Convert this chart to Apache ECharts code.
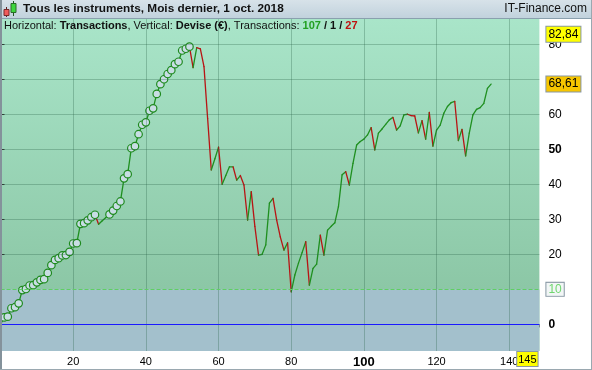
<!DOCTYPE html>
<html>
<head>
<meta charset="utf-8">
<script src="https://cdn.jsdelivr.net/npm/echarts@6/dist/echarts.min.js"></script>
<style>
html,body{margin:0;padding:0;background:#fff;}
#chart{width:592px;height:370px;}
</style>
</head>
<body>
<div id="chart"></div>
<script>
// ---- data ----
const title = 'Tous les instruments, Mois dernier, 1 oct. 2018';
const brand = 'IT-Finance.com';
const countWins = 107, countFlat = 1, countLosses = 27;
const equity = [
  0, 2.0, 2.2, 4.6, 4.9, 6.0, 9.8, 10.1, 11.1, 11.2,
  12.0, 12.7, 12.9, 14.7, 16.9, 18.4, 18.9, 19.7, 19.8, 20.7,
  23.1, 23.2, 28.7, 28.9, 29.7, 30.6, 31.3, 28.6, 29.6, 30.5,
  31.4, 32.5, 33.8, 35.1, 41.7, 42.9, 50.3, 50.9, 54.3, 57.0,
  57.7, 61.0, 61.7, 65.8, 68.6, 70.0, 71.5, 72.6, 74.3, 75.0,
  78.2, 78.7, 79.3, 73.3, 79.0, 78.7, 73.6, 58.8, 44.1, 47.3,
  50.6, 40.0, 42.5, 45.0, 45.0, 41.2, 42.5, 39.8, 29.8, 37.9,
  28.0, 19.8, 20.0, 22.7, 34.6, 36.0, 29.8, 25.0, 21.2, 23.3,
  9.3, 14.1, 17.5, 20.5, 23.6, 11.2, 16.0, 17.2, 25.5, 19.8,
  26.9, 28.0, 29.0, 33.6, 42.7, 43.6, 39.8, 46.0, 51.2, 52.2,
  52.9, 54.1, 56.2, 49.8, 54.6, 55.8, 57.1, 58.4, 59.1, 55.5,
  56.7, 59.8, 60.0, 59.6, 59.5, 54.7, 58.2, 52.9, 60.5, 50.9,
  55.5, 56.9, 60.3, 62.2, 63.3, 63.7, 52.5, 55.7, 48.1, 54.6,
  59.8, 61.4, 61.9, 63.1, 67.4, 68.61
];
const xTickLabels = [20, 40, 60, 80, 100, 120, 140];
const xBoldLabels = [100];
const yTickValues = [0, 10, 20, 30, 40, 50, 60, 70, 80];
const yTickLabels = [0, 20, 30, 40, 50, 60, 80];
const yBoldLabels = [0, 50];
const xGridValues = [20, 40, 60, 80, 100, 120, 140];
const yGridValues = [20, 30, 40, 50, 60, 70, 80];
const zeroLine = 0;
const thresholdLine = 10;
const topValueLabel = 82.84;
const lastValueLabel = 68.61;
const xEndLabel = 145;

// ---- axis range ----
const yMin = -7.6, yMax = 87.2;
const xMin = 0, xMax = 148.3;

// ---- derived ----
const segData = [];
for (let k = 0; k < equity.length - 1; k++) {
  segData.push([k, equity[k], k + 1, equity[k + 1], equity[k + 1] >= equity[k] ? 1 : 0]);
}
const markerData = [];
let runMax = equity[0];
for (let i = 1; i < equity.length; i++) {
  if (equity[i] >= runMax) { markerData.push([i, equity[i]]); }
  runMax = Math.max(runMax, equity[i]);
}
const fmtFr = v => String(v).replace('.', ',');

const FONT = "'Liberation Sans', Arial, sans-serif";
const chart = echarts.init(document.getElementById('chart'), null, {renderer: 'canvas'});

const gridLineStyle = {color: 'rgba(40,95,70,0.3)', width: 1, type: 'solid'};
const hidden = {color: 'rgba(0,0,0,0)', width: 0};

const option = {
  animation: false,
  backgroundColor: '#ffffff',
  textStyle: {fontFamily: FONT},
  grid: {
    left: 0.5, right: 52.6, top: 19, bottom: 19,
    show: true, borderWidth: 0,
    backgroundColor: new echarts.graphic.LinearGradient(0, 0, 0, 1, [
      {offset: 0, color: '#a9e5c9'},
      {offset: 0.81, color: '#8cc7a6'},
      {offset: 1, color: '#8cc7a6'}
    ])
  },
  xAxis: {
    type: 'value', min: xMin, max: xMax, interval: 20,
    axisLine: {show: false},
    axisTick: {show: true, length: 3, lineStyle: {color: '#666'}},
    minorTick: {show: true, splitNumber: 2, length: 3, lineStyle: {color: '#666'}},
    splitLine: {show: false},
    axisLabel: {
      showMinLabel: false, showMaxLabel: false, margin: 5,
      fontSize: 11, fontFamily: FONT, color: '#000',
      formatter: v => xTickLabels.indexOf(v) < 0 ? '' : (xBoldLabels.indexOf(v) >= 0 ? '{b|' + v + '}' : String(v)),
      rich: {b: {fontWeight: 'bold', fontSize: 13, fontFamily: FONT, color: '#000'}}
    }
  },
  yAxis: {
    type: 'value', position: 'right', min: yMin, max: yMax,
    axisLine: {show: true, lineStyle: {color: '#a4b2ba', width: 1.5}},
    axisTick: {show: true, length: 4, customValues: yTickValues, lineStyle: {color: '#333'}},
    splitLine: {show: false},
    axisLabel: {
      customValues: yTickLabels, margin: 9,
      fontSize: 12, fontFamily: FONT, color: '#000',
      formatter: v => yBoldLabels.indexOf(v) >= 0 ? '{b|' + v + '}' : String(v),
      rich: {b: {fontWeight: 'bold', fontSize: 12, fontFamily: FONT, color: '#000'}}
    }
  },
  series: [
    {
      type: 'line', name: 'bg', data: [], z: 1, silent: true,
      markArea: {
        silent: true,
        itemStyle: {color: '#a3c0cc'},
        data: [[{yAxis: yMin}, {yAxis: thresholdLine}]]
      },
      markLine: {
        silent: true, symbol: 'none', label: {show: false},
        data: [
          ...xGridValues.map(v => ({xAxis: v, lineStyle: gridLineStyle})),
          ...yGridValues.map(v => ({yAxis: v, lineStyle: gridLineStyle})),
          {yAxis: thresholdLine, lineStyle: {color: '#5fcf63', width: 1, type: [4, 2]}},
          {yAxis: zeroLine, lineStyle: {color: '#1a1aff', width: 1, type: 'solid'}}
        ]
      }
    },
    {
      type: 'custom', name: 'equity', z: 3, silent: true,
      data: segData,
      encode: {x: [0, 2], y: [1, 3]},
      renderItem: function (params, api) {
        const p0 = api.coord([api.value(0), api.value(1)]);
        const p1 = api.coord([api.value(2), api.value(3)]);
        return {
          type: 'line',
          shape: {x1: p0[0], y1: p0[1], x2: p1[0], y2: p1[1]},
          style: {stroke: api.value(4) ? '#1f8f1f' : '#b81414', lineWidth: 1.3, lineCap: 'round'}
        };
      }
    },
    {
      type: 'scatter', name: 'highs', z: 4, silent: true,
      data: markerData, symbol: 'circle', symbolSize: 7.5,
      itemStyle: {color: '#c8dde4', borderColor: '#1e8a1e', borderWidth: 1.2, opacity: 1}
    },
    {
      type: 'line', name: 'labels', data: [], z: 6, silent: true,
      markLine: {
        silent: true, symbol: 'none',
        data: [
          {yAxis: topValueLabel, lineStyle: hidden, label: {show: true, position: 'end', distance: 7, formatter: fmtFr(topValueLabel),
            backgroundColor: '#ffff00', borderColor: '#8797a3', borderWidth: 1, padding: [2, 2, 1, 2],
            color: '#000', fontSize: 12, fontFamily: FONT}},
          {yAxis: lastValueLabel, lineStyle: hidden, label: {show: true, position: 'end', distance: 7, formatter: fmtFr(lastValueLabel),
            backgroundColor: '#f7c600', borderColor: '#8797a3', borderWidth: 1, padding: [2, 2, 1, 2],
            color: '#000', fontSize: 12, fontFamily: FONT}},
          {yAxis: thresholdLine, lineStyle: hidden, label: {show: true, position: 'end', distance: 7, formatter: String(thresholdLine),
            backgroundColor: '#f2f6f6', borderColor: '#8797a3', borderWidth: 1, padding: [1, 2, 0, 2],
            color: '#6fd66f', fontSize: 12, fontFamily: FONT}},
          {xAxis: xEndLabel, lineStyle: hidden, label: {show: true, position: 'start', distance: 1, formatter: String(xEndLabel),
            backgroundColor: '#ffff00', borderColor: '#8797a3', borderWidth: 1, padding: [2, 1, 1, 1],
            color: '#000', fontSize: 11, fontFamily: FONT}}
        ]
      }
    }
  ],
  graphic: [
    {type: 'rect', left: 0, top: 0, z: 100, shape: {width: 592, height: 19},
      style: {fill: new echarts.graphic.LinearGradient(0, 0, 0, 1, [
        {offset: 0, color: '#d7e2e9'}, {offset: 1, color: '#c0d1dc'}])}},
    {type: 'line', z: 101, shape: {x1: 0, y1: 18.5, x2: 592, y2: 18.5}, style: {stroke: '#8aa0ae', lineWidth: 1}},
    {type: 'rect', z: 101, shape: {x: 0, y: 0, width: 2, height: 370}, style: {fill: '#84929b'}},
    {type: 'line', z: 101, shape: {x1: 0, y1: 369.5, x2: 592, y2: 369.5}, style: {stroke: '#9aa8b0', lineWidth: 1}},
    {type: 'line', z: 101, shape: {x1: 591.5, y1: 0, x2: 591.5, y2: 370}, style: {stroke: '#9aa8b0', lineWidth: 1}},
    // icon
    {type: 'line', z: 102, shape: {x1: 6.5, y1: 7, x2: 6.5, y2: 17}, style: {stroke: '#5a2020', lineWidth: 1}},
    {type: 'rect', z: 103, shape: {x: 4, y: 9.5, width: 5, height: 6}, style: {fill: '#ef5b5b', stroke: '#7a2a2a', lineWidth: 1}},
    {type: 'line', z: 102, shape: {x1: 13.5, y1: 1, x2: 13.5, y2: 16}, style: {stroke: '#205a20', lineWidth: 1}},
    {type: 'rect', z: 103, shape: {x: 11, y: 3.5, width: 5, height: 9}, style: {fill: '#3ed63e', stroke: '#2a6a2a', lineWidth: 1}},
    {type: 'text', z: 104, left: 23, top: 3,
      style: {text: title, font: "bold 11.8px " + FONT, fill: '#111'}},
    {type: 'text', z: 104, right: 5, top: 3,
      style: {text: brand, font: "12px " + FONT, fill: '#111'}},
    {type: 'text', z: 104, left: 4, top: 20,
      style: {
        text: '{n|Horizontal: }{b|Transactions}{n|, Vertical: }{b|Devise (€)}{n|, Transactions: }{g|' + countWins + '}{b| / ' + countFlat + ' / }{r|' + countLosses + '}',
        rich: {
          n: {fontSize: 11, fontFamily: FONT, fill: '#111'},
          b: {fontSize: 11, fontFamily: FONT, fontWeight: 'bold', fill: '#111'},
          g: {fontSize: 11, fontFamily: FONT, fontWeight: 'bold', fill: '#22a022'},
          r: {fontSize: 11, fontFamily: FONT, fontWeight: 'bold', fill: '#c01010'}
        }
      }}
  ]
};
chart.setOption(option);
</script>
</body>
</html>
